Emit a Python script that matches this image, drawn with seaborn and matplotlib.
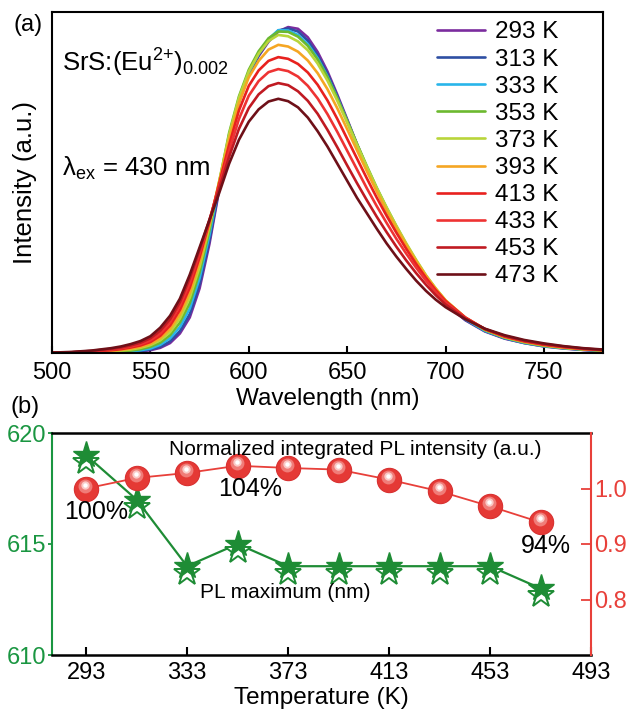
import numpy as np
import pandas as pd
import matplotlib
matplotlib.use("Agg")
import matplotlib.pyplot as plt
import matplotlib.transforms as mtransforms
import seaborn as sns

# ---- panel (a): PL spectra ----
wavelength = [500, 510, 520, 530, 535, 540, 545, 550, 555, 560, 565, 570, 575, 580,
              585, 590, 595, 600, 605, 610, 615, 620, 625, 630, 635, 640, 645, 650,
              655, 660, 665, 670, 675, 680, 685, 690, 695, 700, 710, 720, 730, 740,
              750, 760, 770, 780]

temps = [293, 313, 333, 353, 373, 393, 413, 433, 453, 473]

pl_293 = [0.000, 0.000, 0.001, 0.002, 0.003, 0.004, 0.006, 0.009, 0.016, 0.030, 0.058, 0.105, 0.190, 0.320,
          0.480, 0.630, 0.735, 0.815, 0.870, 0.912, 0.942, 0.955, 0.950, 0.925, 0.882, 0.825, 0.757, 0.685,
          0.612, 0.543, 0.478, 0.418, 0.362, 0.310, 0.262, 0.218, 0.179, 0.145, 0.097, 0.064, 0.043, 0.030,
          0.020, 0.014, 0.010, 0.007]
pl_313 = [0.000, 0.001, 0.001, 0.002, 0.003, 0.005, 0.007, 0.011, 0.019, 0.035, 0.065, 0.115, 0.202, 0.330,
          0.485, 0.632, 0.738, 0.818, 0.873, 0.915, 0.945, 0.951, 0.942, 0.915, 0.872, 0.818, 0.752, 0.682,
          0.611, 0.543, 0.479, 0.419, 0.364, 0.312, 0.264, 0.220, 0.181, 0.147, 0.098, 0.065, 0.044, 0.030,
          0.021, 0.015, 0.010, 0.007]
pl_333 = [0.000, 0.001, 0.002, 0.003, 0.004, 0.006, 0.009, 0.014, 0.025, 0.044, 0.077, 0.131, 0.220, 0.346,
          0.495, 0.638, 0.744, 0.823, 0.877, 0.920, 0.946, 0.945, 0.932, 0.905, 0.864, 0.810, 0.747, 0.679,
          0.610, 0.544, 0.481, 0.422, 0.367, 0.315, 0.267, 0.223, 0.184, 0.150, 0.100, 0.066, 0.045, 0.031,
          0.021, 0.015, 0.011, 0.008]
pl_353 = [0.001, 0.001, 0.002, 0.004, 0.006, 0.008, 0.012, 0.019, 0.031, 0.053, 0.090, 0.147, 0.237, 0.360,
          0.502, 0.645, 0.752, 0.830, 0.884, 0.922, 0.942, 0.941, 0.927, 0.900, 0.860, 0.808, 0.746, 0.680,
          0.613, 0.548, 0.485, 0.427, 0.372, 0.320, 0.272, 0.227, 0.188, 0.153, 0.103, 0.068, 0.046, 0.032,
          0.022, 0.016, 0.011, 0.008]
pl_373 = [0.001, 0.002, 0.003, 0.006, 0.008, 0.011, 0.016, 0.024, 0.038, 0.062, 0.102, 0.163, 0.253, 0.371,
          0.505, 0.640, 0.748, 0.825, 0.877, 0.914, 0.932, 0.928, 0.913, 0.887, 0.848, 0.798, 0.739, 0.675,
          0.610, 0.546, 0.484, 0.427, 0.373, 0.322, 0.274, 0.229, 0.190, 0.155, 0.104, 0.069, 0.047, 0.033,
          0.023, 0.016, 0.012, 0.008]
pl_393 = [0.001, 0.002, 0.004, 0.007, 0.010, 0.014, 0.019, 0.028, 0.044, 0.071, 0.114, 0.177, 0.267, 0.379,
          0.503, 0.628, 0.733, 0.808, 0.856, 0.889, 0.903, 0.898, 0.883, 0.857, 0.820, 0.773, 0.717, 0.656,
          0.594, 0.533, 0.474, 0.418, 0.366, 0.317, 0.270, 0.227, 0.189, 0.155, 0.105, 0.070, 0.048, 0.034,
          0.024, 0.017, 0.012, 0.009]
pl_413 = [0.001, 0.002, 0.005, 0.009, 0.012, 0.017, 0.023, 0.033, 0.051, 0.081, 0.127, 0.192, 0.281, 0.385,
          0.498, 0.610, 0.711, 0.783, 0.828, 0.856, 0.867, 0.862, 0.847, 0.822, 0.786, 0.740, 0.686, 0.628,
          0.570, 0.512, 0.456, 0.403, 0.353, 0.306, 0.262, 0.221, 0.185, 0.153, 0.105, 0.071, 0.049, 0.035,
          0.025, 0.018, 0.013, 0.009]
pl_433 = [0.002, 0.003, 0.006, 0.011, 0.015, 0.020, 0.027, 0.038, 0.058, 0.091, 0.140, 0.206, 0.294, 0.389,
          0.492, 0.592, 0.686, 0.754, 0.797, 0.823, 0.832, 0.826, 0.810, 0.783, 0.746, 0.700, 0.648, 0.593,
          0.538, 0.483, 0.431, 0.382, 0.335, 0.292, 0.251, 0.213, 0.179, 0.149, 0.104, 0.071, 0.050, 0.036,
          0.026, 0.019, 0.013, 0.010]
pl_453 = [0.002, 0.003, 0.007, 0.013, 0.017, 0.023, 0.031, 0.044, 0.066, 0.100, 0.150, 0.220, 0.303, 0.391,
          0.483, 0.575, 0.657, 0.718, 0.758, 0.782, 0.791, 0.785, 0.767, 0.739, 0.701, 0.654, 0.603, 0.550,
          0.498, 0.448, 0.400, 0.355, 0.312, 0.272, 0.235, 0.201, 0.170, 0.143, 0.102, 0.071, 0.051, 0.037,
          0.027, 0.020, 0.014, 0.010]
pl_473 = [0.002, 0.004, 0.008, 0.015, 0.020, 0.027, 0.036, 0.050, 0.075, 0.110, 0.160, 0.230, 0.310, 0.390,
          0.470, 0.555, 0.625, 0.678, 0.714, 0.737, 0.745, 0.738, 0.720, 0.690, 0.650, 0.605, 0.555, 0.505,
          0.455, 0.410, 0.365, 0.322, 0.283, 0.247, 0.213, 0.183, 0.157, 0.135, 0.100, 0.072, 0.053, 0.039,
          0.029, 0.021, 0.015, 0.011]

spectra = [pl_293, pl_313, pl_333, pl_353, pl_373, pl_393, pl_413, pl_433, pl_453, pl_473]
colors = ["#7B2C9E", "#2E4FA3", "#29B5EA", "#6CB92F", "#B9D53A",
          "#F5A623", "#E8211E", "#EE3333", "#C01A22", "#6E1018"]

# ---- panel (b): PL maximum and integrated intensity ----
t_points = [293, 313, 333, 353, 373, 393, 413, 433, 453, 473]
pl_max = [619, 617, 614, 615, 614, 614, 614, 614, 614, 613]
norm_int = [1.000, 1.019, 1.028, 1.041, 1.037, 1.034, 1.016, 0.995, 0.968, 0.939]
pct_labels = ["100%", "104%", "94%"]

GREEN = "#1E8C35"
GREEN_TXT = "#1A9641"
RED = "#E8403A"

sns.set_theme(style="ticks")
plt.rcParams["font.family"] = ["Liberation Sans", "DejaVu Sans"]
plt.rcParams["mathtext.fontset"] = "custom"
plt.rcParams["mathtext.rm"] = "Liberation Sans"
plt.rcParams["mathtext.it"] = "Liberation Sans:italic"
plt.rcParams["mathtext.default"] = "regular"
for key in ["text.color", "axes.labelcolor", "xtick.color", "ytick.color", "axes.edgecolor"]:
    plt.rcParams[key] = "black"

W, H = 631, 714
fig = plt.figure(figsize=(W / 100, H / 100), dpi=100)
ax_a = fig.add_axes([52 / W, 1 - 353.3 / H, (603 - 52) / W, (353.3 - 11.7) / H])
ax_b = fig.add_axes([52 / W, 1 - 655 / H, (591 - 52) / W, (655 - 433) / H])

# long-format table for seaborn
rows = []
for t, vals in zip(temps, spectra):
    for wl, v in zip(wavelength, vals):
        rows.append({"wavelength": wl, "intensity": v, "T": t})
df = pd.DataFrame(rows)

sns.lineplot(data=df, x="wavelength", y="intensity", hue="T", hue_order=temps,
             palette=dict(zip(temps, colors)), lw=1.9, estimator=None, sort=False,
             legend=False, ax=ax_a)

ax_a.set_xlim(500, 780)
ax_a.set_ylim(0, 1.0)
ax_a.set_yticks([])
ax_a.set_xticks([500, 550, 600, 650, 700, 750])
ax_a.tick_params(axis="x", direction="in", length=5, width=1.5, labelsize=17, pad=6)
for s in ax_a.spines.values():
    s.set_linewidth(1.5)
ax_a.set_xlabel("Wavelength (nm)", fontsize=17.5)
ax_a.xaxis.set_label_coords(0.5, -0.102)
ax_a.set_ylabel("Intensity (a.u.)", fontsize=18.5)
ax_a.yaxis.set_label_coords(-0.027, 0.5)

ax_a.legend(ax_a.get_lines(), [f"{t} K" for t in temps], loc="upper right",
            bbox_to_anchor=(0.937, 1.0), borderaxespad=0, frameon=False, fontsize=17.5,
            handlelength=1.98, handletextpad=0.41, labelspacing=0.21)

ax_a.text(0.018, 0.85, "SrS:(Eu$^{2{+}}$)$_{0.002}$", transform=ax_a.transAxes,
          fontsize=18.5, va="center", ha="left")
ax_a.text(0.018, 0.54, "$\\lambda_{ex}$ = 430 nm", transform=ax_a.transAxes,
          fontsize=18.5, va="center", ha="left")

fig.text(28 / W, 1 - 25 / H, "(a)", fontsize=17, ha="center", va="center")
fig.text(25 / W, 1 - 407 / H, "(b)", fontsize=17, ha="center", va="center")

# panel b, left axis (PL maximum): hollow "shadow" star below, filled star on top
sns.lineplot(x=t_points, y=pl_max, color=GREEN, lw=1.6, ax=ax_b)
shift = mtransforms.offset_copy(ax_b.transData, fig=fig, x=0, y=-7, units="dots")
ax_b.plot(t_points, pl_max, ls="none", marker="*", ms=19, mfc="white", mec=GREEN,
          mew=1.4, transform=shift, zorder=3)
ax_b.plot(t_points, pl_max, ls="none", marker="*", ms=20, color=GREEN, mec=GREEN, zorder=4)

ax_b.set_xlim(279.5, 493)
ax_b.set_ylim(610, 620)
ax_b.set_xticks([293, 333, 373, 413, 453, 493])
ax_b.set_yticks([610, 615, 620])
ax_b.tick_params(axis="x", direction="in", length=6, width=1.5, labelsize=17, pad=5)
ax_b.tick_params(axis="y", colors=GREEN_TXT, direction="out", length=3, width=1.3,
                 labelsize=17, pad=1)
ax_b.spines["left"].set_color(GREEN_TXT)
ax_b.spines["left"].set_linewidth(1.5)
for k in ["top", "bottom"]:
    ax_b.spines[k].set_linewidth(1.8)
ax_b.set_xlabel("Temperature (K)", fontsize=17.5)
ax_b.xaxis.set_label_coords(0.5, -0.145)

# panel b, right axis (integrated intensity)
ax_r = ax_b.twinx()
sns.lineplot(x=t_points, y=norm_int, color=RED, lw=1.3, ax=ax_r)
ax_r.plot(t_points, norm_int, ls="none", marker="o", ms=17.5, color="#E53935", mec="#D83030",
          mew=0.8, zorder=3)
hl = mtransforms.offset_copy(ax_r.transData, fig=fig, x=-1, y=3, units="dots")
ax_r.plot(t_points, norm_int, ls="none", marker="o", ms=10, color="#F07C78", mew=0,
          transform=hl, zorder=4)
hl2 = mtransforms.offset_copy(ax_r.transData, fig=fig, x=-1, y=4, units="dots")
ax_r.plot(t_points, norm_int, ls="none", marker="o", ms=6, color="#FAC9C6", mew=0,
          transform=hl2, zorder=5)
ax_r.plot(t_points, norm_int, ls="none", marker="o", ms=3.2, color="white", mew=0,
          transform=hl2, zorder=6)

ax_r.set_ylim(0.7, 1.1)
ax_r.set_yticks([0.8, 0.9, 1.0])
ax_r.set_yticklabels(["0.8", "0.9", "1.0"])
ax_r.tick_params(axis="y", colors=RED, direction="in", length=7, width=1.3,
                 labelsize=17, pad=2)
ax_r.spines["right"].set_color(RED)
ax_r.spines["right"].set_linewidth(1.5)
for k in ["left", "top", "bottom"]:
    ax_r.spines[k].set_visible(False)

ax_r.text(399.8, 1.070, "Normalized integrated PL intensity (a.u.)", fontsize=15,
          ha="center", va="center")
ax_r.text(372, 0.812, "PL maximum (nm)", fontsize=15, ha="center", va="center")
ax_r.text(297, 0.957, pct_labels[0], fontsize=18, ha="center", va="center")
ax_r.text(358, 0.999, pct_labels[1], fontsize=18, ha="center", va="center")
ax_r.text(475, 0.896, pct_labels[2], fontsize=18, ha="center", va="center")

fig.savefig("out.png", dpi=100)
